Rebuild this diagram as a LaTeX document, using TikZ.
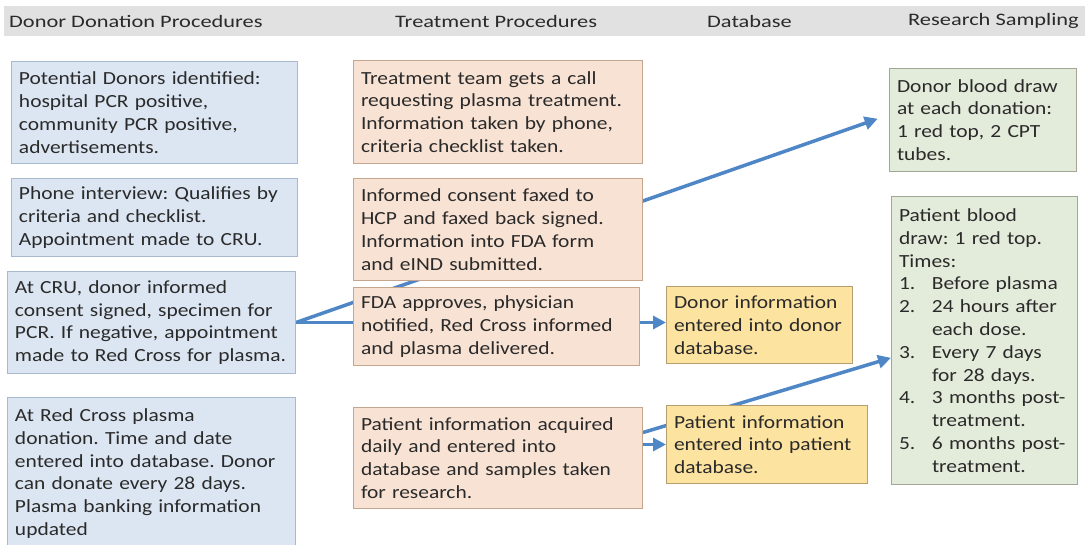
\documentclass[tikz,border=0pt]{standalone}
\usepackage{fontspec}
\setmainfont{Carlito}[FakeStretch=1.16]
\newfontfamily\headfamily{Carlito}[FakeStretch=1.28]
\usepackage{xcolor}
\usetikzlibrary{arrows.meta,calc,backgrounds}
\frenchspacing
\hyphenpenalty=10000

\definecolor{headgray}{HTML}{E1E1E1}
\definecolor{textgray}{HTML}{2A2A2A}
\definecolor{donorfill}{HTML}{DCE6F2}
\definecolor{donoredge}{HTML}{A9BAD0}
\definecolor{treatfill}{HTML}{F8E2D3}
\definecolor{treatedge}{HTML}{C4A58E}
\definecolor{dbfill}{HTML}{FDE3A0}
\definecolor{dbedge}{HTML}{B59F6E}
\definecolor{samplefill}{HTML}{E3EBDA}
\definecolor{sampleedge}{HTML}{A3A596}
\definecolor{flowblue}{HTML}{4F86C6}

\newcommand{\boxfont}{\fontsize{18.5}{22.8}\selectfont}
\newcommand{\headfont}{\headfamily\fontsize{17.5}{20}\selectfont}
\newcommand{\numlabel}[1]{\makebox[33pt][l]{#1}}
\newcommand{\numindent}{\hspace*{33pt}}

\tikzset{
  stepbox/.style={draw, line width=1pt, anchor=north west, align=left,
    inner xsep=7.5pt, inner ysep=4pt, font=\boxfont, text=textgray},
  donorbox/.style={stepbox, draw=donoredge, fill=donorfill},
  treatbox/.style={stepbox, draw=treatedge, fill=treatfill},
  dbbox/.style={stepbox, draw=dbedge, fill=dbfill},
  samplebox/.style={stepbox, draw=sampleedge, fill=samplefill},
  colhead/.style={anchor=west, font=\headfont, text=textgray, inner sep=0pt},
  flow/.style={draw=flowblue, line width=3.5pt,
    -{Triangle[length=13pt,width=13pt]}}
}

\begin{document}
\begin{tikzpicture}[x=1pt, y=-1pt]
\clip (0,0) rectangle (1085,544);

% column headers
\fill[headgray] (4,6) rectangle (1085,36);
\node[colhead] (hdonor) at (9,21) {Donor Donation Procedures};
\node[colhead] (htreat) at (395,21) {Treatment Procedures};
\node[colhead] (hdb) at (707,21) {Database};
\node[colhead] (hsample) at (908,21) {Research Sampling};

% donor donation procedures
\node[donorbox, text width=271pt, minimum height=102pt] (identify) at (11,61)
  {Potential Donors identified:\\ hospital PCR positive,\\ community PCR positive,\\ advertisements.};
\node[donorbox, text width=271pt, minimum height=78pt] (interview) at (11,178)
  {Phone interview: Qualifies by\\ criteria and checklist.\\ Appointment made to CRU.};
\node[donorbox, text width=273pt, minimum height=102pt] (cru) at (7,271)
  {At CRU, donor informed\\ consent signed, specimen for\\ PCR. If negative, appointment\\ made to Red Cross for plasma.};
\node[donorbox, text width=273pt, minimum height=152pt] (redcross) at (7,397)
  {At Red Cross plasma\\ donation. Time and date\\ entered into database. Donor\\ can donate every 28 days.\\ Plasma banking information\\ updated};

% treatment procedures
\node[treatbox, text width=274pt, minimum height=103pt] (call) at (353,60)
  {Treatment team gets a call\\ requesting plasma treatment.\\ Information taken by phone,\\ criteria checklist taken.};
\node[treatbox, text width=274pt, minimum height=102pt] (consent) at (353,178)
  {Informed consent faxed to\\ HCP and faxed back signed.\\ Information into FDA form\\ and eIND submitted.};
\node[treatbox, text width=271pt, minimum height=78pt] (approve) at (353,287)
  {FDA approves, physician\\ notified, Red Cross informed\\ and plasma delivered.};
\node[treatbox, text width=274pt, minimum height=101pt] (patinfo) at (353,407)
  {Patient information acquired\\ daily and entered into\\ database and samples taken\\ for research.};

% database
\node[dbbox, text width=171pt, minimum height=77pt] (donordb) at (666,286)
  {Donor information\\ entered into donor\\ database.};
\node[dbbox, text width=186pt, minimum height=78pt] (patientdb) at (666,405)
  {Patient information\\ entered into patient\\ database.};

% research sampling
\node[samplebox, text width=172pt, minimum height=103pt] (donorblood) at (889,68)
  {Donor blood draw\\ at each donation:\\ 1 red top, 2 CPT\\ tubes.};
\node[samplebox, text width=171pt, minimum height=288pt] (patientblood) at (891,196)
  {Patient blood\\ draw: 1 red top.\\ Times:\\
   \numlabel{1.}Before plasma\\
   \numlabel{2.}24 hours after\\ \numindent each dose.\\
   \numlabel{3.}Every 7 days\\ \numindent for 28 days.\\
   \numlabel{4.}3 months post-\\ \numindent treatment.\\
   \numlabel{5.}6 months post-\\ \numindent treatment.};

% arrows, behind the boxes
\begin{scope}[on background layer]
\draw[flow, shorten >=12pt] (cru.east)
  -- ($(donorblood.north west)!0.45!(donorblood.south west)$);
\draw[flow] (cru.east) -- (cru.east -| donordb.west);
\draw[flow] ($(patinfo.north east)!0.25!(patinfo.south east)$)
  -- ($(patientblood.north west)!0.56!(patientblood.south west)$);
\draw[flow] (patinfo.east |- patientdb.west) -- (patientdb.west);
\end{scope}
\end{tikzpicture}
\end{document}
